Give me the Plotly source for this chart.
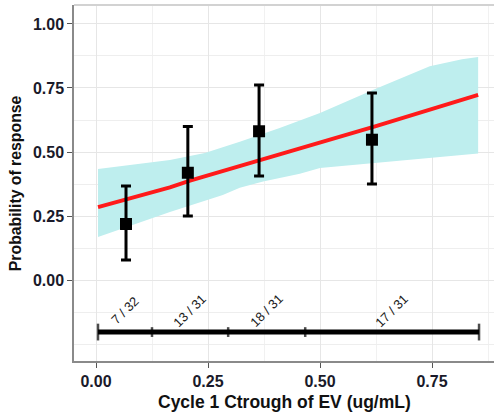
import plotly.graph_objects as go

# Observed response by exposure bin
obs_x = [0.067, 0.205, 0.364, 0.616]
obs_p = [0.219, 0.419, 0.581, 0.548]
obs_lo = [0.078, 0.25, 0.406, 0.375]
obs_hi = [0.367, 0.60, 0.762, 0.73]

# Model prediction (line)
fit_x = [0.0045, 0.165, 0.21, 0.41, 0.623, 0.853]
fit_y = [0.285, 0.362, 0.388, 0.49, 0.600, 0.723]

# Confidence band
band_up_x = [0.0045, 0.12, 0.165, 0.243, 0.321, 0.41, 0.5, 0.618, 0.745, 0.817, 0.853]
band_up_y = [0.434, 0.461, 0.469, 0.496, 0.54, 0.594, 0.652, 0.742, 0.835, 0.862, 0.871]
band_lo_x = [0.0045, 0.165, 0.283, 0.321, 0.373, 0.455, 0.5, 0.618, 0.745, 0.853]
band_lo_y = [0.168, 0.266, 0.332, 0.36, 0.385, 0.415, 0.438, 0.457, 0.476, 0.494]

# Exposure bins
bin_edges = [0.0045, 0.125, 0.295, 0.467, 0.855]
bin_labels = ["7 / 32", "13 / 31", "18 / 31", "17 / 31"]
bin_bar_y = -0.203
bin_label_y = -0.12

y_ticks = [0, 0.25, 0.5, 0.75, 1.0]
y_ticktext = ["0.00", "0.25", "0.50", "0.75", "1.00"]
x_ticks = [0, 0.25, 0.5, 0.75]
x_ticktext = ["0.00", "0.25", "0.50", "0.75"]

FONT = "Liberation Sans, Arial"

fig = go.Figure()

fig.add_trace(go.Scatter(
    x=band_up_x + band_lo_x[::-1],
    y=band_up_y + band_lo_y[::-1],
    fill="toself", fillcolor="rgb(190,238,238)",
    line=dict(width=0), mode="lines", showlegend=False, hoverinfo="skip"))

fig.add_trace(go.Scatter(
    x=fit_x, y=fit_y, mode="lines",
    line=dict(color="#ff1a1a", width=4), showlegend=False))

fig.add_trace(go.Scatter(
    x=obs_x, y=obs_p, mode="markers",
    marker=dict(symbol="square", size=12, color="black"),
    error_y=dict(type="data", symmetric=False,
                 array=[h - p for h, p in zip(obs_hi, obs_p)],
                 arrayminus=[p - l for l, p in zip(obs_lo, obs_p)],
                 thickness=3, width=5, color="black"),
    showlegend=False))

n_edges = len(bin_edges)
fig.add_trace(go.Scatter(
    x=bin_edges, y=[bin_bar_y] * n_edges, mode="lines+markers",
    line=dict(color="black", width=5),
    marker=dict(symbol="line-ns-open",
                size=[12] + [7] * (n_edges - 2) + [12],
                line=dict(color="black", width=2.5)),
    showlegend=False))

for i, lab in enumerate(bin_labels):
    fig.add_annotation(
        x=(bin_edges[i] + bin_edges[i + 1]) / 2, y=bin_label_y,
        text=lab, showarrow=False, textangle=-45,
        font=dict(family=FONT, size=13, color="#1a1a1a"))

# top border
fig.add_shape(type="line", xref="paper", yref="paper", x0=0, x1=1, y0=1, y1=1,
              line=dict(color="#d2d2d2", width=2))

fig.add_annotation(xref="paper", yref="paper", x=0.5, y=-0.115, yanchor="middle",
                   text="Cycle 1 Ctrough of EV (ug/mL)", showarrow=False,
                   font=dict(family=FONT, size=17.5, color="#111", weight="bold"))
fig.add_annotation(xref="paper", yref="paper", x=-0.14, y=0.5, xanchor="center",
                   yanchor="middle",
                   text="Probability of response", showarrow=False, textangle=-90,
                   font=dict(family=FONT, size=15.8, color="#111", weight="bold"))

tickfont = dict(family=FONT, size=16, color="#1a1a2a", weight="bold")

fig.update_xaxes(range=[-0.0491, 0.8884], tickvals=x_ticks, ticktext=x_ticktext,
                 showgrid=True, gridcolor="#e6e6e6", gridwidth=1.3,
                 showline=True, linecolor="#8a8a8a", linewidth=1.5,
                 ticks="outside", ticklen=5, tickcolor="#555", tickwidth=1.3,
                 tickfont=tickfont, zeroline=False,
                 minor=dict(tickvals=[0.125, 0.375, 0.625, 0.875], showgrid=True,
                            gridcolor="#f1f1f1", gridwidth=1, ticks=""))
fig.update_yaxes(range=[-0.316, 1.074], tickvals=y_ticks, ticktext=y_ticktext,
                 showgrid=True, gridcolor="#e6e6e6", gridwidth=1.3,
                 showline=True, linecolor="#8a8a8a", linewidth=1.5,
                 ticks="outside", ticklen=5, tickcolor="#555", tickwidth=1.3,
                 tickfont=tickfont, zeroline=False,
                 minor=dict(tickvals=[-0.25, -0.125, 0.125, 0.375, 0.625, 0.875],
                            showgrid=True, gridcolor="#eeeeee", gridwidth=1, ticks=""))

fig.update_layout(width=494, height=414, margin=dict(l=74, r=0, t=5, b=53),
                  plot_bgcolor="white", paper_bgcolor="white")

fig.write_html("out.html")
